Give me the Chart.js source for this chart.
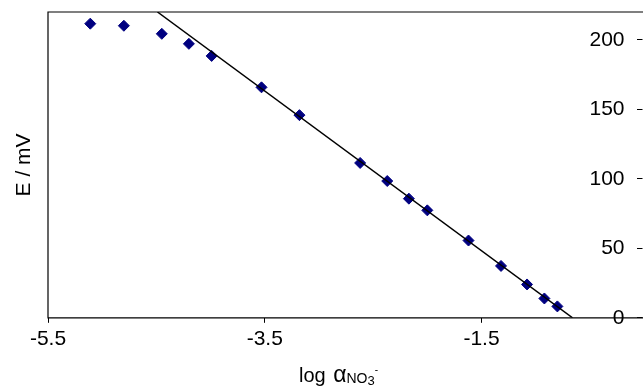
<!DOCTYPE html>
<html>
<head>
<meta charset="utf-8">
<script src="https://cdn.jsdelivr.net/npm/chart.js@4/dist/chart.umd.min.js"></script>
<style>
    body { margin: 0; background: #fff; }
    #wrap { position: relative; width: 643px; height: 390px; }
    #xTitle {
        position: absolute; left: 44px; width: 589px; top: 361px;
        text-align: center; color: #000; white-space: nowrap;
        font: 20px "Liberation Sans", Arial, sans-serif;
    }
    #xTitle .act { font-size: 23px; margin-left: 2px; }
    #xTitle .ion { font-size: 14px; position: relative; top: 1px; }
    #xTitle .ion sub { font-size: 13px; position: relative; top: 2px; vertical-align: baseline; }
    #xTitle .ion sup { font-size: 10px; position: relative; top: -10px; vertical-align: baseline; }
</style>
</head>
<body>
<div id="wrap">
    <canvas id="electrode" width="643" height="390"></canvas>
    <div id="xTitle">log <span class="act">α</span><span class="ion">NO<sub>3</sub><sup>-</sup></span></div>
</div>
<script>
const xTickValues = [-5.5, -3.5, -1.5]
const yTickValues = [0, 50, 100, 150, 200]

// measured points: log activity vs electrode potential (mV)
const logActivity = [-5.11, -4.80, -4.45, -4.20, -3.99, -3.53, -3.18, -2.62, -2.37, -2.17, -2.00, -1.62, -1.32, -1.08, -0.92, -0.80]
const potential = [211.6, 210.1, 204.3, 197.1, 188.4, 165.8, 145.8, 111.4, 98.4, 85.7, 77.3, 55.6, 37.3, 24.0, 13.9, 8.2]

// calibration line end points
const fitX = [-4.49, -0.66]
const fitY = [220, 0]

const fontFamily = "'Liberation Sans', Arial, sans-serif"

const toPoints = (xs, ys) => xs.map((x, i) => ({ x: x, y: ys[i] }))

// left + top + bottom frame, running out to the right edge of the canvas
const framePlugin = {
    id: "frame",
    afterDraw: (chart) => {
        const { ctx, chartArea } = chart
        ctx.save()
        ctx.strokeStyle = "#000"
        ctx.lineWidth = 1.2
        ctx.beginPath()
        ctx.moveTo(chart.width, chartArea.top)
        ctx.lineTo(chartArea.left, chartArea.top)
        ctx.lineTo(chartArea.left, chartArea.bottom)
        ctx.lineTo(chart.width, chartArea.bottom)
        ctx.stroke()
        ctx.restore()
    }
}

// the value axis keeps only its tick marks in the layout, labels sit inside the plot
const fitValueAxis = (axis) => {
    axis.width = 6
    axis.paddingTop = 0
    axis.paddingBottom = 0
}

const ctx = document.getElementById("electrode").getContext("2d")

const config = {
    type: "scatter",
    data: {
        datasets: [
            {
                label: "fit",
                data: toPoints(fitX, fitY),
                showLine: true,
                borderColor: "#000",
                borderWidth: 1.5,
                pointRadius: 0,
                order: 0
            },
            {
                label: "E",
                data: toPoints(logActivity, potential),
                pointStyle: "rectRot",
                pointRadius: 5.5,
                backgroundColor: "#000080",
                borderColor: "#000080",
                borderWidth: 1,
                order: 1
            }
        ]
    },
    options: {
        responsive: false,
        animation: false,
        layout: { padding: { top: 12, bottom: 34, left: 0, right: 0 } },
        plugins: {
            legend: { display: false },
            tooltip: { enabled: false }
        },
        scales: {
            x: {
                type: "linear",
                position: "bottom",
                min: -5.5,
                max: -0.07,
                afterBuildTicks: (axis) => { axis.ticks = xTickValues.map(v => ({ value: v })) },
                afterFit: (axis) => { axis.paddingLeft = 0; axis.paddingRight = 0 },
                grid: { drawOnChartArea: false, tickLength: 5, color: "#000", lineWidth: 1 },
                border: { display: false },
                ticks: {
                    color: "#000",
                    padding: 4,
                    maxRotation: 0,
                    font: { family: fontFamily, size: 21 },
                    callback: (v) => v.toFixed(1)
                }
            },
            y: {
                type: "linear",
                position: "right",
                min: 0,
                max: 220,
                afterBuildTicks: (axis) => { axis.ticks = yTickValues.map(v => ({ value: v })) },
                afterFit: fitValueAxis,
                grid: { drawOnChartArea: false, tickLength: 6, color: "#000", lineWidth: 1 },
                border: { display: false },
                ticks: {
                    mirror: true,
                    padding: -12,
                    color: "#000",
                    font: { family: fontFamily, size: 21 }
                }
            },
            yTitle: {
                type: "linear",
                position: "left",
                afterFit: (axis) => { axis.width = 48 },
                grid: { display: false, drawTicks: false },
                border: { display: false },
                ticks: { display: false },
                title: {
                    display: true,
                    text: "E / mV",
                    color: "#000",
                    font: { family: fontFamily, size: 21 },
                    padding: { top: 12, bottom: 0 }
                }
            }
        }
    },
    plugins: [framePlugin]
}

const electrodeChart = new Chart(ctx, config)
</script>
</body>
</html>
